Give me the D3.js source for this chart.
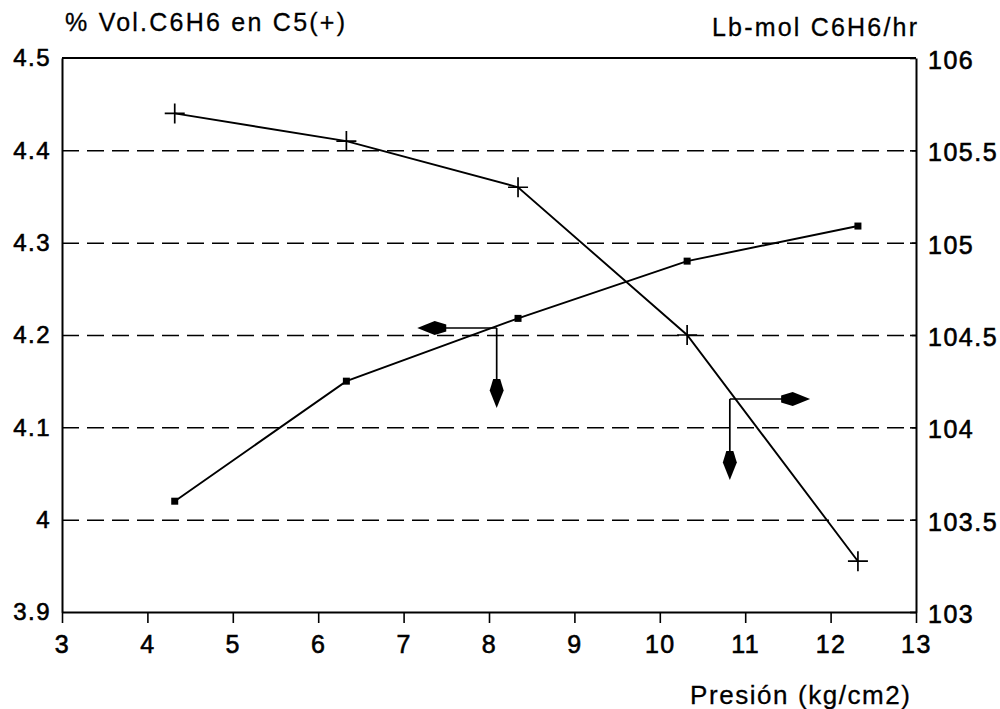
<!DOCTYPE html>
<html>
<head>
<meta charset="utf-8">
<script src="https://cdn.jsdelivr.net/npm/d3@7"></script>
<style>
	body { margin: 0; background: #fff; }
	text { font-family: "Liberation Sans", Arial, Helvetica, sans-serif; fill: #000; }
	.tick text { font-size: 24px; letter-spacing: 1.5px; stroke: #000; stroke-width: 0.6px; }
	.title { stroke: #000; stroke-width: 0.3px; }
	.domain { stroke: #000; stroke-width: 2px; }
	.tick line { stroke: #000; stroke-width: 1.6px; }
	.grid line { stroke: #000; stroke-width: 1.5px; stroke-dasharray: 17 8; }
</style>
</head>
<body>
<div id="chart"></div>
<script>
	// presion (kg/cm2)
	var presion = [4.32, 6.33, 8.34, 10.32, 12.32];
	// % vol C6H6 en C5 (eje izquierdo, marcador +)
	var volC6H6 = [4.44, 4.41, 4.36, 4.20, 3.955];
	// lb-mol C6H6/hr (eje derecho, marcador cuadrado)
	var lbmolC6H6 = [103.60, 104.25, 104.59, 104.90, 105.09];

	var xTicks = [3, 4, 5, 6, 7, 8, 9, 10, 11, 12, 13];
	var leftTicks = [3.9, 4, 4.1, 4.2, 4.3, 4.4, 4.5];
	var rightTicks = [103, 103.5, 104, 104.5, 105, 105.5, 106];

	// flechas (coordenadas de datos, eje izquierdo)
	var arrowX0 = [8.09, 10.82];
	var arrowY0 = [4.2076, 4.1307];
	var arrowXEnd = [7.16, 11.76];
	var arrowYEnd = [4.121, 4.043];

	var w = 1000, h = 709;
	var mLeft = 62, mRight = 916, mTop = 58, mBottom = 612;

	var svg = d3.select("#chart")
		.append("svg")
		.attr("width", w)
		.attr("height", h);

	var xScale = d3.scaleLinear().domain([3, 13]).range([mLeft, mRight]);
	var yLeft = d3.scaleLinear().domain([3.9, 4.5]).range([mBottom, mTop]);
	var yRight = d3.scaleLinear().domain([103, 106]).range([mBottom, mTop]);

	// dashed gridlines
	svg.append("g")
		.attr("class", "grid")
		.attr("transform", "translate(" + mLeft + ",0)")
		.call(d3.axisLeft(yLeft).tickValues([4, 4.1, 4.2, 4.3, 4.4]).tickSize(-(mRight - mLeft)).tickFormat(""))
		.call(function (g) { g.select(".domain").remove(); });

	// top border
	svg.append("line")
		.attr("x1", mLeft).attr("x2", mRight)
		.attr("y1", mTop).attr("y2", mTop)
		.attr("stroke", "#000").attr("stroke-width", 2);

	// bottom axis
	svg.append("g")
		.attr("transform", "translate(0," + mBottom + ")")
		.call(d3.axisBottom(xScale).tickValues(xTicks).tickSize(11).tickSizeOuter(0).tickPadding(12).tickFormat(d3.format("d")))
		.call(function (g) { g.selectAll(".tick text").style("font-size", "25px"); });

	// left axis
	svg.append("g")
		.attr("transform", "translate(" + mLeft + ",0)")
		.call(d3.axisLeft(yLeft).tickValues(leftTicks).tickSize(0).tickPadding(11).tickFormat(function (d) { return d === 4 ? "4" : d3.format(".1f")(d); }));

	// right axis
	svg.append("g")
		.attr("transform", "translate(" + mRight + ",0)")
		.call(d3.axisRight(yRight).tickValues(rightTicks).tickSizeInner(-6).tickSizeOuter(0).tickPadding(12).tickFormat(function (d) { return d % 1 === 0 ? d3.format("d")(d) : d3.format(".1f")(d); }))
		.call(function (g) { g.selectAll(".tick text").style("font-size", "25px").attr("dy", "0.42em"); });

	// serie 1 : % vol (+)
	var line1 = d3.line()
		.x(function (d, i) { return xScale(presion[i]); })
		.y(function (d) { return yLeft(d); });

	svg.append("path")
		.datum(volC6H6)
		.attr("d", line1)
		.attr("fill", "none")
		.attr("stroke", "#000")
		.attr("stroke-width", 1.9);

	svg.append("g")
		.selectAll("path")
		.data(volC6H6)
		.enter()
		.append("path")
		.attr("d", function (d, i) {
			var cx = xScale(presion[i]), cy = yLeft(d);
			return "M" + (cx - 10) + "," + cy + "H" + (cx + 10) + "M" + cx + "," + (cy - 10) + "V" + (cy + 10);
		})
		.attr("stroke", "#000")
		.attr("stroke-width", 1.7);

	// serie 2 : lb-mol (cuadrados)
	var line2 = d3.line()
		.x(function (d, i) { return xScale(presion[i]); })
		.y(function (d) { return yRight(d); });

	svg.append("path")
		.datum(lbmolC6H6)
		.attr("d", line2)
		.attr("fill", "none")
		.attr("stroke", "#000")
		.attr("stroke-width", 1.9);

	svg.append("g")
		.selectAll("rect")
		.data(lbmolC6H6)
		.enter()
		.append("rect")
		.attr("x", function (d, i) { return xScale(presion[i]) - 3.5; })
		.attr("y", function (d) { return yRight(d) - 3.5; })
		.attr("width", 7)
		.attr("height", 7)
		.attr("fill", "#000");

	// flechas
	function arrowHead(tx, ty, dir) {
		// dir: "left", "right", "down"
		var L = 29, W = 7;
		var pts = [[0, 0], [L * 0.6, -W], [L, -3.5], [L, 3.5], [L * 0.6, W]];
		return "M" + pts.map(function (p) {
			if (dir == "left") return [tx + p[0], ty + p[1]];
			else if (dir == "right") return [tx - p[0], ty + p[1]];
			else return [tx + p[1], ty - p[0]];
		}).map(function (p) { return p.join(","); }).join("L") + "Z";
	}

	var arrows = svg.append("g");
	for (var i = 0; i < arrowX0.length; i++) {
		var x0 = xScale(arrowX0[i]), y0 = yLeft(arrowY0[i]);
		var xe = xScale(arrowXEnd[i]), ye = yLeft(arrowYEnd[i]);
		var dir = xe < x0 ? "left" : "right";
		arrows.append("path")
			.attr("d", "M" + x0 + "," + y0 + "H" + (dir == "left" ? xe + 20 : xe - 20) + "M" + x0 + "," + y0 + "V" + (ye - 20))
			.attr("stroke", "#000")
			.attr("stroke-width", 1.7)
			.attr("fill", "none");
		arrows.append("path").attr("d", arrowHead(xe, y0, dir)).attr("fill", "#000");
		arrows.append("path").attr("d", arrowHead(x0, ye, "down")).attr("fill", "#000");
	}

	// titulos
	svg.append("text")
		.attr("class", "title")
		.attr("x", 65)
		.attr("y", 31)
		.attr("font-size", 25)
		.attr("textLength", 280)
		.attr("lengthAdjust", "spacing")
		.text("% Vol.C6H6 en C5(+)");

	svg.append("text")
		.attr("class", "title")
		.attr("x", 712)
		.attr("y", 36)
		.attr("font-size", 25)
		.attr("textLength", 205)
		.attr("lengthAdjust", "spacing")
		.text("Lb-mol C6H6/hr");

	svg.append("text")
		.attr("class", "title")
		.attr("x", 690)
		.attr("y", 704)
		.attr("font-size", 26)
		.attr("textLength", 220)
		.attr("lengthAdjust", "spacing")
		.text("Presión (kg/cm2)");
</script>
</body>
</html>
